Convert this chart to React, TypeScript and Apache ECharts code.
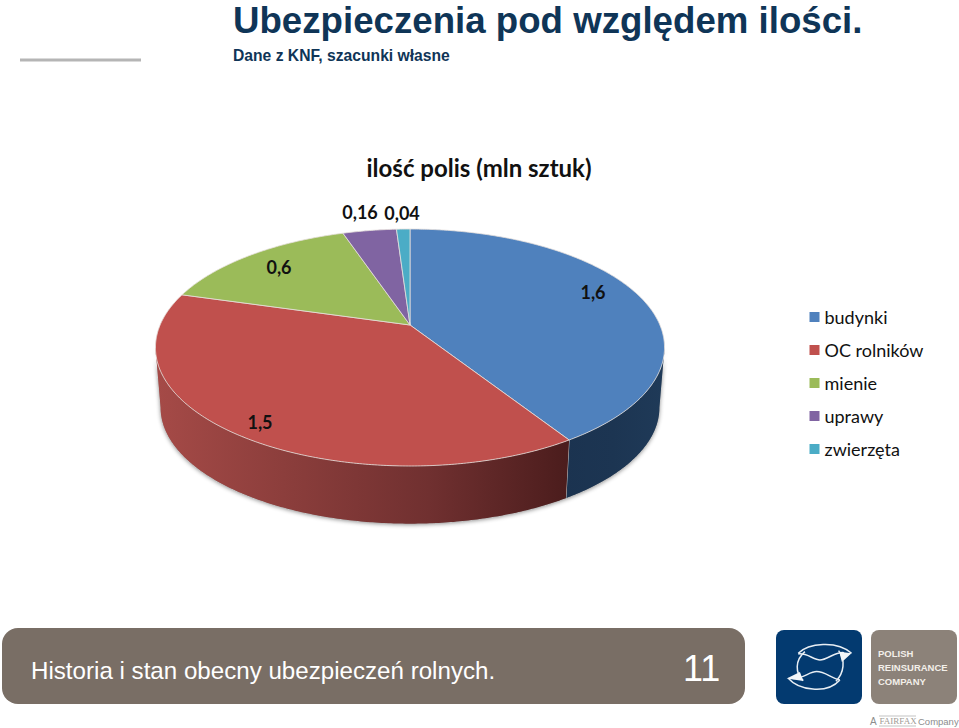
import React, { useEffect, useRef } from "react";
import * as echarts from "echarts";

const categories = ["budynki", "OC rolników", "mienie", "uprawy", "zwierzęta"];
const policies = [1.6, 1.5, 0.6, 0.16, 0.04];
const topColors = ["#4f81bd", "#c0504d", "#9bbb59", "#8064a2", "#4bacc6"];
const legendColors = ["#4f81bd", "#c0504d", "#9bbb59", "#8064a2", "#4bacc6"];

const chartTitle = "ilość polis (mln sztuk)";
const pageTitle = "Ubezpieczenia pod względem ilości.";
const pageSubtitle = "Dane z KNF, szacunki własne";
const footerText = "Historia i stan obecny ubezpieczeń rolnych.";
const pageNumber = "11";
const logoLines = ["POLISH", "REINSURANCE", "COMPANY"];

// perspective disc layout
const APEX_X = 410;
const APEX_Y = 325;
const RX = 249.9;
const RY = 114.2;
const PERSP = 0.19;
const DEPTH = 60.5;
const BOTTOM_SCALE = 0.98;
const labelAnchors = [
  [593, 292],
  [260, 422],
  [279, 267],
  [360, 212],
  [402, 213],
];

const total = policies.reduce((a, b) => a + b, 0);
const startOf = (i: number) =>
  (policies.slice(0, i).reduce((a, b) => a + b, 0) / total) * 2 * Math.PI;

const topPt = (t: number): number[] => {
  const w = 1 + PERSP * Math.cos(t);
  return [APEX_X + (RX * Math.sin(t)) / w, APEX_Y - (RY * Math.cos(t)) / w];
};
const botPt = (t: number): number[] => {
  const w = 1 + PERSP * Math.cos(t);
  return [
    APEX_X + (BOTTOM_SCALE * RX * Math.sin(t)) / w,
    APEX_Y - (BOTTOM_SCALE * RY * Math.cos(t)) / w + DEPTH,
  ];
};
const arc = (a: number, b: number, fn: (t: number) => number[]) => {
  const n = Math.max(2, Math.ceil(Math.abs(b - a) / 0.01));
  const pts: number[][] = [];
  for (let i = 0; i <= n; i++) pts.push(fn(a + ((b - a) * i) / n));
  return pts;
};
// where the rim's outline turns vertical
const SIDE_R = Math.acos(-PERSP);
const SIDE_L = 2 * Math.PI - SIDE_R;

const lin = (x0: number, x1: number, stops: string[]) =>
  new echarts.graphic.LinearGradient(
    x0, 0, x1, 0,
    stops.map((color, i) => ({ offset: i / (stops.length - 1), color })),
    true
  );

const sideFill = (i: number) => {
  if (i === 0) return lin(563, 664, ["#1b3350", "#1c3552", "#1f3a58"]);
  return lin(158, 565, ["#a54a47", "#8a3d3b", "#703030", "#4c1d1d"]);
};

const sliceRender = (i: number) => (_p: any, api: any) => {
  const a = startOf(i);
  const b = a + (Number(api.value(0)) / total) * 2 * Math.PI;
  const children: any[] = [];
  const sa = Math.max(a, SIDE_R);
  const sb = Math.min(b, SIDE_L);
  if (sb > sa) {
    children.push({
      type: "polygon",
      shape: { points: [...arc(sa, sb, topPt), ...arc(sb, sa, botPt)] },
      style: { fill: sideFill(i) },
    });
    if (sb < SIDE_L) {
      const p = topPt(sb);
      const q = botPt(sb);
      children.push({
        type: "line",
        shape: { x1: p[0], y1: p[1], x2: q[0], y2: q[1] },
        style: { stroke: "#c9c9c9", lineWidth: 1 },
      });
    }
  }
  children.push({
    type: "polygon",
    shape: { points: [[APEX_X, APEX_Y], ...arc(a, b, topPt)] },
    style: { fill: topColors[i], stroke: "#e6dfdc", lineWidth: 0.8 },
  });
  children.push({
    type: "text",
    x: labelAnchors[i][0],
    y: labelAnchors[i][1],
    style: {
      text: String(api.value(0)).replace(".", ","),
      fontFamily: "Lato",
      fontWeight: "bold",
      fontSize: 18,
      fill: "#111",
      align: "center",
      verticalAlign: "middle",
    },
  });
  return { type: "group", children };
};

const shadowRender = () => ({
  type: "polygon",
  shape: { points: [...arc(SIDE_R, SIDE_L, topPt), ...arc(SIDE_L, SIDE_R, botPt)] },
  style: {
    fill: "#999",
    shadowBlur: 4,
    shadowColor: "rgba(0,0,0,0.45)",
    shadowOffsetY: 1,
  },
});

const LOGO_SWIRL =
  "M175 130 C205 100 290 90 335 130 M145 205 C175 240 260 255 300 210 " +
  "M175 132 C200 128 222 150 240 150 C262 150 285 125 312 128 " +
  "M160 206 C190 205 210 185 230 185 C255 185 275 205 300 210 " +
  "M195 125 C165 150 165 190 190 212 M296 122 C318 150 312 190 288 214";
const LOGO_WHITE = "M298 125 L335 130 L306 156 Z M140 206 L180 186 L190 213 Z";
echarts.graphic.registerShape("logoSwirl", echarts.graphic.extendPath(LOGO_SWIRL, {}));
echarts.graphic.registerShape("logoWhite", echarts.graphic.extendPath(LOGO_WHITE, {}));

const txt = (x: number, y: number, text: string, style: any, extra: any = {}) => ({
  type: "text",
  x,
  y,
  silent: true,
  ...extra,
  style: { text, verticalAlign: "middle", ...style },
});

export default function App() {
  const ref = useRef<HTMLDivElement>(null);
  useEffect(() => {
    const chart = echarts.init(ref.current!, null, { renderer: "svg" });
    chart.setOption({
      animation: false,
      backgroundColor: "#fff",
      title: {
        text: chartTitle,
        left: 474,
        top: 150,
        textAlign: "center",
        textStyle: { fontFamily: "Lato", fontWeight: "bold", fontSize: 24, color: "#111" },
      },
      legend: {
        orient: "vertical",
        left: 804.5,
        top: 301,
        data: categories,
        icon: "rect",
        itemWidth: 10,
        itemHeight: 10,
        itemGap: 11,
        selectedMode: false,
        textStyle: {
          fontFamily: "Lato",
          fontSize: 18,
          color: "#111",
          padding: [0, 0, 0, 0],
          lineHeight: 22,
        },
      },
      series: [
        {
          type: "custom",
          name: "podstawa",
          coordinateSystem: "none",
          silent: true,
          data: [[total]],
          renderItem: shadowRender,
          z: 1,
        },
        ...categories.map((name, i) => ({
          type: "custom",
          name,
          coordinateSystem: "none",
          silent: true,
          itemStyle: { color: legendColors[i] },
          data: [[policies[i]]],
          renderItem: sliceRender(i),
          z: 2,
        })),
      ],
      graphic: [
        { type: "rect", silent: true, shape: { x: 20, y: 58.5, width: 121, height: 3 }, style: { fill: "#b5b5b5" } },
        txt(233, 20, pageTitle, { fontFamily: "Liberation Sans", fontWeight: "bold", fontSize: 37, fill: "#0f3557" }, { scaleX: 0.991 }),
        txt(233, 55, pageSubtitle, { fontFamily: "Liberation Sans", fontWeight: "bold", fontSize: 16, fill: "#0f3557" }, { scaleX: 0.98 }),
        { type: "rect", silent: true, shape: { x: 2, y: 628, width: 743, height: 76, r: 16 }, style: { fill: "#796e65" } },
        txt(31, 671, footerText, { fontFamily: "Liberation Sans", fontSize: 24, fill: "#fff" }, { scaleX: 1.006 }),
        txt(683, 668, pageNumber, { fontFamily: "Liberation Sans", fontSize: 36, fill: "#fff" }),
        { type: "rect", silent: true, shape: { x: 776, y: 630, width: 86, height: 74, r: 8 }, style: { fill: "#033a70" } },
        { type: "logoSwirl", silent: true, x: 740, y: 610, scaleX: 1 / 3, scaleY: 1 / 3, style: { fill: "none", stroke: "#e8eef4", lineWidth: 4.5 } },
        { type: "logoWhite", silent: true, x: 740, y: 610, scaleX: 1 / 3, scaleY: 1 / 3, style: { fill: "#f2f5f8" } },
        { type: "rect", silent: true, shape: { x: 871, y: 630, width: 86, height: 74, r: 8 }, style: { fill: "#8c8279" } },
        ...logoLines.map((line, i) =>
          txt(878, 653 + i * 14, line, { fontFamily: "Liberation Sans", fontWeight: "bold", fontSize: 9.5, fill: "#f3efe9" })
        ),
        txt(870, 721, "A", { fontFamily: "Liberation Sans", fontSize: 10, fill: "#8d8d8d" }),
        txt(879.5, 721, "FAIRFAX", { fontFamily: "Liberation Serif", fontSize: 9, fill: "#a09a94" }),
        { type: "line", silent: true, shape: { x1: 879, y1: 716, x2: 916, y2: 716 }, style: { stroke: "#a9a9a9", lineWidth: 0.7 } },
        { type: "line", silent: true, shape: { x1: 879, y1: 726, x2: 916, y2: 726 }, style: { stroke: "#a9a9a9", lineWidth: 0.7 } },
        txt(918, 721, "Company", { fontFamily: "Liberation Sans", fontSize: 9.5, fill: "#8d8d8d" }),
      ],
    });
    return () => chart.dispose();
  }, []);
  return (
    <div
      ref={ref}
      style={{ position: "absolute", left: 0, top: 0, width: 959, height: 728 }}
    />
  );
}
